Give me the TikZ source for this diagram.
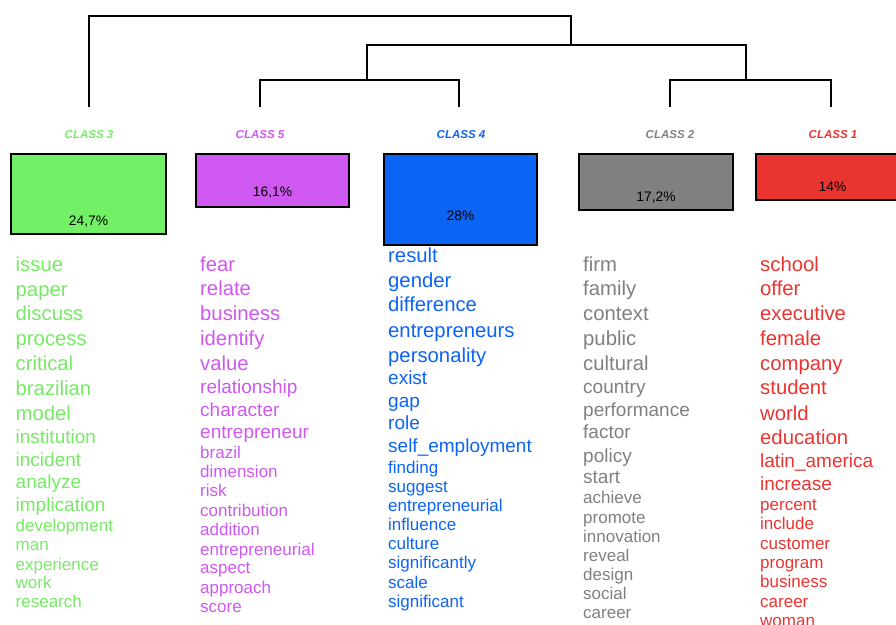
\documentclass[tikz,border=0pt]{standalone}
\usepackage{fontspec}
\setmainfont{Liberation Sans}
\definecolor{cgreen}{RGB}{118,234,100}
\definecolor{cgreenbox}{RGB}{114,240,102}
\definecolor{cpurple}{RGB}{206,88,240}
\definecolor{cblue}{RGB}{12,100,244}
\definecolor{cgray}{RGB}{128,128,128}
\definecolor{cred}{RGB}{234,52,48}
\begin{document}
\begin{tikzpicture}[x=1pt,y=-1pt,
  dend/.style={line width=2.3pt,black,line join=miter},
  cbox/.style={draw=black,line width=2pt,inner sep=0pt},
  pct/.style={anchor=base,font=\fontsize{13.8}{14}\selectfont},
  classlbl/.style={anchor=base,font=\fontsize{11.5}{12}\selectfont\bfseries\itshape}]
\useasboundingbox (0,0) rectangle (896,624);
\clip (0,0) rectangle (896,624);

% dendrogram
\coordinate (l3) at (89,107);
\coordinate (l5) at (260,107);
\coordinate (l4) at (459,107);
\coordinate (l2) at (670,107);
\coordinate (l1) at (831,107);
\coordinate (r) at (571,16);
\coordinate (n2) at (571,45);
\coordinate (n45) at (367,80);
\coordinate (n21) at (746,80);
\draw[dend] (l3) |- (r) -- (n2);
\draw[dend] (n45) |- (n2) -| (n21);
\draw[dend] (l5) |- (n45) -| (l4);
\draw[dend] (l2) |- (n21) -| (l1);

% class labels
\node[classlbl,text=cgreen] (c3) at (89,138) {CLASS 3};
\node[classlbl,text=cpurple] (c5) at (260,138) {CLASS 5};
\node[classlbl,text=cblue] (c4) at (461,138) {CLASS 4};
\node[classlbl,text=cgray] (c2) at (670,138) {CLASS 2};
\node[classlbl,text=cred] (c1) at (833,138) {CLASS 1};

% boxes
\node[cbox,fill=cgreenbox,minimum width=155pt,minimum height=80pt] (b3) at (88.5,194) {};
\node[cbox,fill=cpurple,minimum width=153pt,minimum height=53pt] (b5) at (272.5,180.5) {};
\node[cbox,fill=cblue,minimum width=153pt,minimum height=91pt] (b4) at (460.5,199.5) {};
\node[cbox,fill=cgray,minimum width=154pt,minimum height=56pt] (b2) at (656,182) {};
\node[cbox,fill=cred,minimum width=153pt,minimum height=46pt] (b1) at (832.5,177) {};
\node[pct] (p3) at (88.5,225.5) {24,7\%};
\node[pct] (p5) at (272.5,196.5) {16,1\%};
\node[pct] (p4) at (460.5,220.5) {28\%};
\node[pct] (p2) at (656,201.5) {17,2\%};
\node[pct] (p1) at (832.5,191) {14\%};

% word lists
\foreach \w/\yy/\fs [count=\i] in {issue/271/20.3,paper/296/20.3,discuss/320/20.3,process/345/20.3,critical/370/20.3,brazilian/395/20.3,model/420/20.3,institution/443/19,incident/466/19,analyze/488/19,implication/511/19,development/531/17,man/550/17,experience/570/17,work/588/17,research/607/17}
  \node[anchor=base west,inner sep=0pt,text=cgreen,font=\fontsize{\fs}{\fs}\selectfont] (g\i) at (15.5,\yy) {\w};

\foreach \w/\yy/\fs [count=\i] in {fear/271/20.3,relate/295/20.3,business/320/20.3,identify/345/20.3,value/370/20.3,relationship/393/19,character/416/19,entrepreneur/438/19,brazil/458/17,dimension/477/17,risk/496/17,contribution/516/17,addition/535/17,entrepreneurial/555/17,aspect/573/17,approach/593/17,score/612/17}
  \node[anchor=base west,inner sep=0pt,text=cpurple,font=\fontsize{\fs}{\fs}\selectfont] (v\i) at (200,\yy) {\w};

\foreach \w/\yy/\fs [count=\i] in {result/262/20.3,gender/287/20.3,difference/311/20.3,entrepreneurs/337/20.3,personality/362/20.3,exist/384/19,gap/407/19,role/429/19,self\_employment/452/19,finding/473/17,suggest/492/17,entrepreneurial/511/17,influence/530/17,culture/549/17,significantly/568/17,scale/588/17,significant/607/17}
  \node[anchor=base west,inner sep=0pt,text=cblue,font=\fontsize{\fs}{\fs}\selectfont] (u\i) at (388,\yy) {\w};

\foreach \w/\yy/\fs [count=\i] in {firm/271/20.3,family/295/20.3,context/320/20.3,public/345/20.3,cultural/370/20.3,country/393/19,performance/416/19,factor/438/19,policy/462/19,start/483/19,achieve/503/17,promote/523/17,innovation/542/17,reveal/561/17,design/580/17,social/599/17,career/618/17}
  \node[anchor=base west,inner sep=0pt,text=cgray,font=\fontsize{\fs}{\fs}\selectfont] (k\i) at (583,\yy) {\w};

\foreach \w/\yy/\fs [count=\i] in {school/271/20.3,offer/295/20.3,executive/320/20.3,female/345/20.3,company/370/20.3,student/394/20.3,world/420/20.3,education/444/20.3,latin\_america/467/19,increase/490/19,percent/510/17,include/529/17,customer/549/17,program/568/17,business/587/17,career/607/17,woman/626/17}
  \node[anchor=base west,inner sep=0pt,text=cred,font=\fontsize{\fs}{\fs}\selectfont] (t\i) at (760,\yy) {\w};
\end{tikzpicture}
\end{document}
